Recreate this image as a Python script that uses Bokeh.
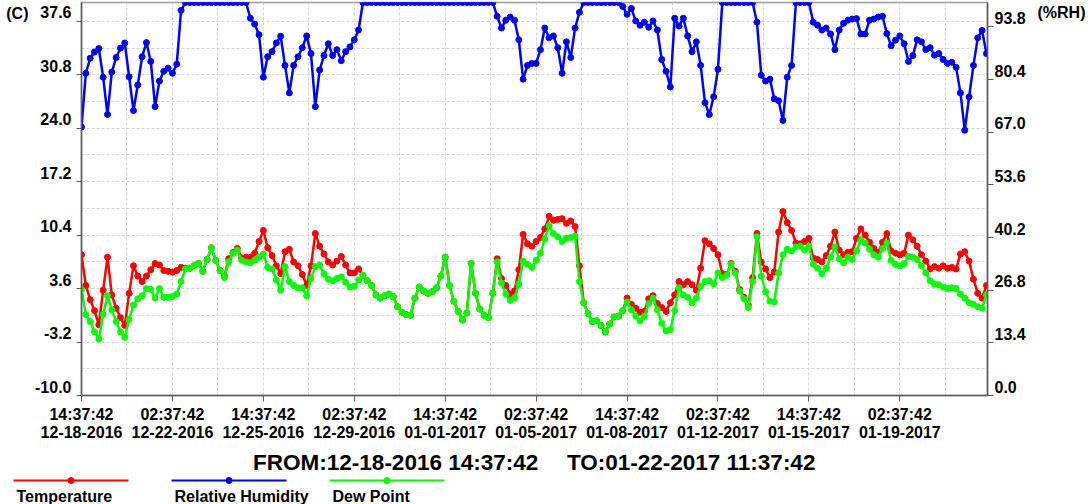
from bokeh.plotting import figure
from bokeh.models import Range1d, LinearAxis, FixedTicker
from bokeh.embed import file_html
from bokeh.resources import INLINE
from bokeh.core.properties import value

FONT = "Liberation Sans"
RED, BLUE, GREEN = "#ff0000", "#0000ff", "#00ff00"

# ---------------- data ----------------
title_from = "FROM:12-18-2016 14:37:42"
title_to = "TO:01-22-2017 11:37:42"
series_names = ["Temperature", "Relative Humidity", "Dew Point"]
left_unit, right_unit = "(C)", "(%RH)"
total_hours = 837          # 12-18-2016 14:37:42 -> 01-22-2017 11:37:42
step_hours = 4             # one reading every 4 hours

tick_hours = [0, 84, 168, 252, 336, 420, 504, 588, 672, 756]
tick_labels = ["14:37:42\n12-18-2016", "02:37:42\n12-22-2016", "14:37:42\n12-25-2016",
               "02:37:42\n12-29-2016", "14:37:42\n01-01-2017", "02:37:42\n01-05-2017",
               "14:37:42\n01-08-2017", "02:37:42\n01-12-2017", "14:37:42\n01-15-2017",
               "02:37:42\n01-19-2017"]
temp_ticks = [-10.0, -3.2, 3.6, 10.4, 17.2, 24.0, 30.8, 37.6]
rh_ticks = [0.0, 13.4, 26.8, 40.2, 53.6, 67.0, 80.4, 93.8]

relative_humidity = [
    68.3, 82.0, 85.8, 87.4, 88.3, 81.0, 71.5, 82.3, 86.0, 88.4,
    89.7, 81.1, 72.5, 79.0, 86.2, 89.8, 85.0, 73.5, 80.0, 82.5,
    83.3, 82.0, 84.3, 98.0, 100, 100, 100, 100, 100, 100,
    100, 100, 100, 100, 100, 100, 100, 100, 100, 96.0,
    94.5, 91.8, 81.0, 86.2, 87.5, 89.7, 91.4, 84.0, 77.0, 84.0,
    86.2, 88.5, 91.5, 87.0, 73.5, 82.8, 86.5, 89.5, 86.5, 88.0,
    85.2, 87.5, 88.7, 90.5, 93.0, 100, 100, 100, 100, 100,
    100, 100, 100, 100, 100, 100, 100, 100, 100, 100,
    100, 100, 100, 100, 100, 100, 100, 100, 100, 100,
    100, 100, 100, 100, 100, 100, 96.5, 93.5, 95.5, 96.3,
    95.5, 90.5, 80.5, 84.0, 84.5, 84.5, 88.0, 93.5, 91.0, 91.5,
    88.5, 82.0, 90.0, 86.0, 93.5, 97.5, 100, 100, 100, 100,
    100, 100, 100, 100, 100, 99.0, 97.0, 98.5, 95.3, 94.2,
    95.0, 93.7, 95.3, 93.0, 85.5, 82.5, 78.5, 96.0, 94.0, 96.0,
    91.5, 87.5, 90.0, 84.0, 74.5, 71.5, 76.0, 83.0, 100, 100,
    100, 100, 100, 100, 100, 100, 95.0, 81.5, 80.0, 80.5,
    75.5, 75.0, 70.0, 81.0, 84.0, 100, 100, 100, 100, 95.0,
    94.2, 93.0, 93.5, 92.0, 88.0, 93.0, 94.7, 95.5, 95.8, 95.9,
    92.0, 92.0, 95.5, 95.8, 96.3, 96.5, 92.1, 89.0, 90.4, 91.5,
    89.5, 85.0, 86.5, 90.5, 90.0, 88.0, 88.5, 86.6, 87.0, 85.5,
    84.5, 84.8, 83.5, 77.0, 67.5, 76.0, 84.0, 91.0, 92.9, 87.0,
]

temperature = [
    7.9, 4.0, 2.2, 0.8, -1.0, 3.4, 7.6, 2.8, 1.1, -0.1,
    -1.1, 3.0, 6.5, 5.2, 4.5, 5.2, 6.0, 6.8, 6.6, 5.9,
    5.8, 5.7, 5.9, 6.3, 6.2, 6.2, 6.5, 6.8, 5.8, 7.3,
    8.8, 7.2, 5.9, 5.2, 7.4, 8.2, 8.7, 7.5, 7.6, 7.6,
    8.1, 9.6, 11.0, 8.8, 7.8, 6.5, 5.5, 8.3, 8.6, 7.0,
    6.5, 5.4, 4.0, 6.5, 10.6, 9.0, 8.0, 7.0, 6.6, 7.1,
    7.7, 6.6, 5.6, 5.6, 6.1, 5.3, 4.6, 4.0, 2.8, 2.4,
    2.7, 2.9, 2.6, 1.3, 0.6, 0.3, 0.2, 2.4, 3.8, 3.3,
    3.0, 3.2, 3.7, 5.2, 7.6, 4.0, 2.0, 0.7, -0.4, 0.5,
    6.8, 3.0, 1.0, 0.2, -0.1, 3.0, 7.4, 4.9, 4.0, 2.9,
    3.3, 6.0, 10.5, 9.3, 9.0, 9.6, 10.1, 11.2, 12.8, 12.3,
    12.4, 12.5, 11.9, 12.2, 11.5, 6.5, 1.8, 0.4, -0.6, -0.5,
    -1.1, -1.9, -0.9, 0.0, 0.1, 0.8, 2.4, 1.6, 1.1, 0.6,
    0.7, 2.3, 2.7, 1.7, 1.2, 0.7, 1.8, 2.8, 4.5, 4.1,
    4.5, 4.1, 3.4, 6.2, 9.7, 9.3, 8.7, 7.9, 5.5, 5.4,
    6.8, 5.8, 3.5, 2.5, 1.5, 5.0, 10.6, 7.0, 6.1, 5.0,
    5.7, 10.8, 13.4, 12.0, 11.0, 9.4, 9.3, 9.6, 10.0, 7.5,
    7.3, 7.0, 7.8, 9.0, 10.8, 8.5, 7.9, 8.2, 8.3, 10.0,
    11.2, 10.4, 9.5, 8.7, 8.2, 9.5, 10.6, 8.4, 8.1, 7.9,
    8.1, 10.4, 9.8, 9.0, 7.9, 7.1, 6.1, 6.4, 6.2, 6.5,
    6.2, 6.3, 6.1, 8.0, 8.3, 7.1, 4.8, 3.0, 2.4, 4.0,
]

dew_point = [
    3.5, 0.3, -0.6, -1.9, -2.8, 0.3, 2.7, 0.9, -0.6, -1.9,
    -2.6, -0.3, 1.5, 2.3, 2.7, 3.6, 3.5, 2.4, 3.6, 2.5,
    2.5, 2.6, 2.9, 4.5, 6.1, 6.2, 6.5, 6.8, 5.8, 7.3,
    8.8, 7.2, 5.9, 5.0, 7.0, 8.1, 8.5, 7.2, 7.0, 6.9,
    7.2, 7.6, 8.0, 6.3, 6.1, 4.7, 3.4, 6.4, 4.5, 4.0,
    3.7, 3.7, 2.7, 4.9, 6.4, 6.6, 5.5, 4.8, 4.6, 4.9,
    5.1, 4.4, 3.8, 3.9, 4.7, 5.3, 4.6, 4.0, 2.8, 2.4,
    2.7, 2.9, 2.6, 1.3, 0.6, 0.3, 0.2, 2.4, 3.8, 3.3,
    3.0, 3.2, 3.7, 5.2, 7.6, 4.0, 2.0, 0.7, -0.4, 0.5,
    6.8, 3.0, 1.0, 0.2, -0.1, 3.0, 7.0, 4.3, 2.9, 2.1,
    2.4, 4.2, 7.1, 6.7, 6.3, 7.2, 8.1, 9.9, 11.6, 10.6,
    10.2, 9.6, 10.0, 10.1, 10.3, 4.5, 1.8, 0.4, -0.6, -0.5,
    -1.1, -1.9, -0.9, 0.0, 0.1, 0.8, 1.9, 0.9, 0.1, -0.5,
    0.1, 1.7, 2.4, 0.9, -0.8, -1.8, -1.6, 0.8, 3.7, 2.8,
    2.5, 1.8, 2.4, 3.9, 4.5, 4.6, 4.2, 5.6, 5.0, 5.3,
    6.7, 5.6, 3.3, 2.3, 1.2, 4.5, 10.2, 5.2, 3.2, 2.0,
    1.9, 5.6, 7.9, 8.6, 8.4, 8.9, 9.0, 8.5, 9.0, 6.7,
    6.2, 5.5, 6.2, 7.6, 8.9, 7.4, 6.9, 7.6, 7.3, 8.4,
    9.8, 9.4, 8.6, 7.9, 7.6, 8.7, 9.4, 7.2, 6.7, 6.5,
    6.8, 7.7, 7.6, 7.3, 6.5, 5.6, 4.6, 4.2, 4.1, 3.8,
    3.6, 3.7, 3.6, 2.9, 2.4, 1.8, 1.6, 1.3, 1.1, 2.8,
]

hours = [step_hours * i for i in range(len(temperature))]

# ---------------- chart ----------------
p = figure(width=1090, height=444, x_range=Range1d(0, total_hours), y_range=Range1d(-10, 40),
           output_backend="svg", toolbar_location=None,
           min_border_left=81, min_border_right=103, min_border_top=2, min_border_bottom=45,
           background_fill_color="white", border_fill_color="white")
p.outline_line_color = "#9a9a9a"
p.outline_line_width = 1.5
p.extra_y_ranges = {"rh": Range1d(0, 100)}
right = LinearAxis(y_range_name="rh")
p.add_layout(right, "right")
left = p.left[0]
bottom = p.below[0]

# unit captions at the top corners, drawn as single-tick outer axes
unit_left = LinearAxis(ticker=FixedTicker(ticks=[38.64], minor_ticks=[]),
                       major_label_overrides={38.64: left_unit})
unit_right = LinearAxis(y_range_name="rh", ticker=FixedTicker(ticks=[97.35], minor_ticks=[]),
                        major_label_overrides={97.35: right_unit})
p.add_layout(unit_left, "left")
p.add_layout(unit_right, "right")

xticker = FixedTicker(ticks=tick_hours, minor_ticks=[h + 42 for h in tick_hours])
bottom.ticker = xticker
bottom.major_label_overrides = dict(zip(tick_hours, tick_labels))

# y tick labels sit just above their tick marks (empty second line lifts them)
temp_minor = [t + 3.4 for t in temp_ticks]
lticker = FixedTicker(ticks=temp_ticks, minor_ticks=temp_minor)
left.ticker = lticker
left.major_label_overrides = {t: f"{t:.1f}\n" for t in temp_ticks}
right.ticker = FixedTicker(ticks=rh_ticks)
right.major_label_overrides = {t: f"{t:.1f}\n" for t in rh_ticks}

p.xgrid.ticker = xticker
p.ygrid.ticker = lticker
for g in (p.xgrid, p.ygrid):
    g.grid_line_color = "#d4d4d4"
    g.grid_line_dash = "3 2"
    g.minor_grid_line_color = "#d4d4d4"
    g.minor_grid_line_dash = "3 2"

for ax in (bottom, left, right, unit_left, unit_right):
    ax.axis_line_color = "#5a5a5a"
    ax.axis_line_width = 1.5
    ax.major_tick_line_color = "#5a5a5a"
    ax.minor_tick_line_color = None
    ax.major_tick_in = 0
    ax.major_label_text_font = FONT
    ax.major_label_text_font_style = "bold"
    ax.major_label_text_font_size = "16px"
    ax.major_label_text_color = "black"
bottom.major_tick_out = 6
bottom.major_label_standoff = 4
bottom.major_label_text_line_height = 1.1
left.major_tick_out = 5
left.major_label_standoff = 5
left.major_label_text_line_height = 1.0
right.major_tick_out = 6
right.major_label_standoff = 1
right.major_label_text_line_height = 1.0
for ax in (unit_left, unit_right):
    ax.axis_line_color = None
    ax.major_tick_line_color = None
    ax.major_tick_out = 0
unit_left.major_label_standoff = 4
unit_right.major_label_standoff = 9

p.line(hours, temperature, color=RED, line_width=2.5)
p.scatter(hours, temperature, color=RED, size=6)
p.line(hours, relative_humidity, y_range_name="rh", color=BLUE, line_width=2.5)
p.scatter(hours, relative_humidity, y_range_name="rh", color=BLUE, size=6)
p.line(hours, dew_point, color=GREEN, line_width=2.5)
p.scatter(hours, dew_point, color=GREEN, size=6)

# ---------------- caption + legend strip (page pixel coordinates) ----------------
q = figure(width=1090, height=60, x_range=Range1d(0, 1090), y_range=Range1d(504, 444),
           output_backend="svg", toolbar_location=None,
           min_border_left=0, min_border_right=0, min_border_top=0, min_border_bottom=0,
           x_axis_location=None, y_axis_location=None)
q.outline_line_color = None
q.grid.visible = False
colors = [RED, BLUE, GREEN]
leg_x0 = [13, 171, 329]
leg_len = 115
q.segment(x0=leg_x0, y0=[480] * 3, x1=[x + leg_len for x in leg_x0], y1=[480] * 3,
          color=colors, line_width=2)
q.scatter(x=[x + leg_len / 2 for x in leg_x0], y=[480] * 3, color=colors, size=6)
q.text(x=[x + 3 for x in leg_x0], y=[495.5] * 3, text=series_names,
       text_font=value(FONT), text_font_style="bold", text_font_size="16px",
       text_baseline="middle", text_align="left", text_color="black")
q.text(x=[252.6, 566.4], y=[461.5] * 2, text=[title_from, title_to],
       text_font=value(FONT), text_font_style="bold", text_font_size="22.5px",
       text_baseline="middle", text_align="left", text_color="black")

open("out.html", "w").write(file_html([p, q], INLINE))
